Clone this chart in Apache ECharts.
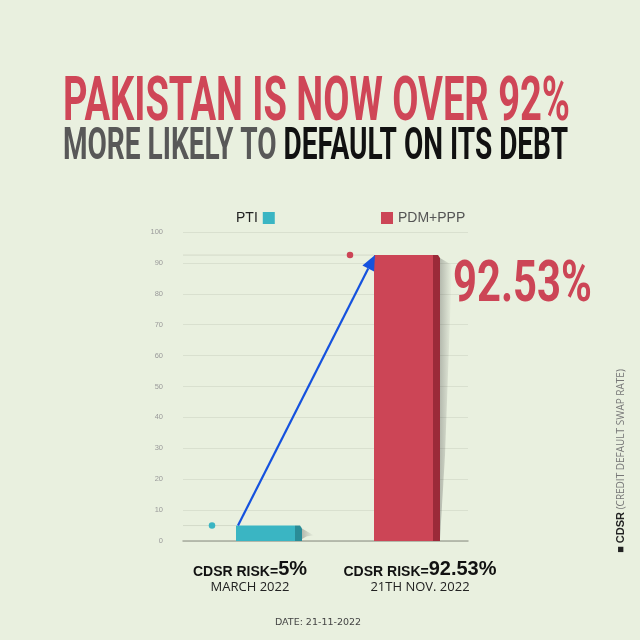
<!DOCTYPE html>
<html><head><meta charset="utf-8">
<script src="https://cdn.jsdelivr.net/npm/echarts@6/dist/echarts.min.js"></script>
<style>html,body{margin:0;padding:0;background:#e9f0df;}#c{width:640px;height:640px;}</style>
</head><body><div id="c"></div>
<script>
// ---- data ----
const categories = ['PTI', 'PDM+PPP'];
const cdsrValues = [5, 92.53];
const periodLabels = ['MARCH 2022', '21TH NOV. 2022'];
const yMin = 0, yMax = 100, yInterval = 10;
const titleLine1 = 'PAKISTAN IS NOW OVER 92%';
const titleLine2a = 'MORE LIKELY TO ';
const titleLine2b = 'DEFAULT ON ITS DEBT';
const sideNoteBold = '■ CDSR';
const sideNote = ' (CREDIT DEFAULT SWAP RATE)';
const dateText = 'DATE: 21-11-2022';

// ---- styles ----
const barColors = ['#3ab5c3', '#cc4556'];
const sideColors = ['#2a8c97', '#9b2a39'];
const BG = '#e9f0df';
const BAR_W = 66, SIDE = 7;

function measure(text, font) {
  const ctx = document.createElement('canvas').getContext('2d');
  ctx.font = font;
  return ctx.measureText(text).width;
}
const f1 = 'bold 62px Roboto';
const s1 = 507 / measure(titleLine1, f1);
const f2 = 'bold 45px Roboto';
const w2a = measure(titleLine2a, f2), w2b = measure(titleLine2b, f2);
const s2 = 505 / (w2a + w2b);

const chart = echarts.init(document.getElementById('c'), null, {renderer: 'canvas'});

const gridTop = 232, gridBottom = 99;

const option = {
  backgroundColor: BG,
  animation: false,
  legend: [
    {data: [categories[0]], align: 'right', left: 231, top: 206, icon: 'rect', itemWidth: 12, itemHeight: 12, itemGap: 6,
      textStyle: {fontSize: 14, color: '#222', fontFamily: 'Liberation Sans'}},
    {data: [categories[1]], align: 'left', left: 376, top: 206, icon: 'rect', itemWidth: 12, itemHeight: 12, itemGap: 6,
      textStyle: {fontSize: 14, color: '#555', fontFamily: 'Liberation Sans'}}
  ],
  grid: [
    {left: 200, right: 164, top: gridTop, bottom: gridBottom},   // bars
    {left: 183, right: 172, top: gridTop, bottom: gridBottom},   // gridlines + y labels
    {left: 165, right: 135, top: gridTop, bottom: gridBottom}    // bottom labels
  ],
  xAxis: [
    {gridIndex: 0, type: 'category', data: categories, show: false},
    {gridIndex: 1, type: 'category', data: categories, axisLine: {show: true, lineStyle: {color: '#a6ab9f', width: 1.5}},
      axisTick: {show: false}, axisLabel: {show: false}},
    {gridIndex: 2, type: 'category', data: categories, axisLine: {show: false}, axisTick: {show: false},
      axisLabel: {
        interval: 0, hideOverlap: false, margin: 21, lineHeight: 17,
        formatter: (v, i) => `{a|CDSR RISK=}{b|${cdsrValues[i]}%}\n{c|${periodLabels[i]}}`,
        rich: {
          a: {fontFamily: 'Liberation Sans', fontWeight: 900, fontSize: 14, color: '#111', verticalAlign: 'bottom'},
          b: {fontFamily: 'Liberation Sans', fontWeight: 900, fontSize: 20, color: '#111', verticalAlign: 'bottom'},
          c: {fontFamily: 'Open Sans', fontSize: 13, color: '#222', lineHeight: 17}
        }
      }}
  ],
  yAxis: [
    {gridIndex: 0, type: 'value', min: yMin, max: yMax, interval: yInterval, show: false},
    {gridIndex: 1, type: 'value', min: yMin, max: yMax, interval: yInterval,
      axisLine: {show: false}, axisTick: {show: false},
      axisLabel: {fontSize: 7.5, color: '#9a9a9a', margin: 20, fontFamily: 'Liberation Sans'},
      splitLine: {lineStyle: {color: '#d9e0cf', width: 1}}},
    {gridIndex: 2, type: 'value', min: yMin, max: yMax, show: false}
  ],
  series: [
    {
      type: 'custom', xAxisIndex: 0, yAxisIndex: 0, z: 3,
      data: cdsrValues.map((v, i) => [i, v]),
      renderItem(params, api) {
        const i = params.dataIndex;
        const v = api.value(1);
        const top = api.coord([i, v]);
        const base = api.coord([i, 0]);
        const x0 = top[0] - BAR_W / 2;
        const x1 = x0 + BAR_W - SIDE;
        const h = base[1] - top[1];
        const cs = params.coordSys;
        const children = [
          {type: 'line', shape: {x1: cs.x - 17, y1: top[1], x2: x0, y2: top[1]}, style: {stroke: '#d3dac9', lineWidth: 1}},
          {type: 'polygon', shape: {points: [[x1 + SIDE, top[1] + 3], [x1 + SIDE + 12, top[1] + 10], [x1 + SIDE + 5, top[1] + h * 0.7], [x1 + SIDE, base[1] - 2]]},
            style: {fill: new echarts.graphic.LinearGradient(0, 0, 1, 0, [{offset: 0, color: 'rgba(60,60,60,0.30)'}, {offset: 1, color: 'rgba(60,60,60,0)'}])}},
          {type: 'rect', shape: {x: x0, y: top[1], width: x1 - x0, height: h}, style: {fill: barColors[i]}},
          {type: 'polygon', shape: {points: [[x1, top[1]], [x1 + SIDE - 2, top[1]], [x1 + SIDE, top[1] + 3], [x1 + SIDE, base[1]], [x1, base[1]]]},
            style: {fill: sideColors[i]}}
        ];
        if (i === cdsrValues.length - 1) {
          children.push({type: 'text', x: x1 + SIDE + 13, y: top[1] + 31, scaleX: 0.72,
            style: {text: v.toFixed(2) + '%', font: 'bold 58px Roboto', fill: barColors[i], verticalAlign: 'middle', align: 'left'}});
        }
        return {type: 'group', children};
      }
    },
    {
      type: 'custom', xAxisIndex: 0, yAxisIndex: 0, z: 4,
      data: [[0, cdsrValues[0], 1, cdsrValues[1]]],
      renderItem(params, api) {
        const p0 = api.coord([api.value(0), api.value(1)]);
        const p1 = api.coord([api.value(2), api.value(3)]);
        const a = [p0[0] - BAR_W / 2 + 2, p0[1]];
        const b = [p1[0] - BAR_W / 2 + 1, p1[1]];
        const dx = b[0] - a[0], dy = b[1] - a[1];
        const L = Math.hypot(dx, dy), ux = dx / L, uy = dy / L;
        const hl = 15, hw = 6.5;
        const bx = b[0] - ux * hl, by = b[1] - uy * hl;
        return {type: 'group', children: [
          {type: 'line', shape: {x1: a[0], y1: a[1], x2: bx, y2: by}, style: {stroke: '#1552de', lineWidth: 2.2}},
          {type: 'polygon', shape: {points: [b, [bx - uy * hw, by + ux * hw], [bx + uy * hw, by - ux * hw]]}, style: {fill: '#1552de'}}
        ]};
      }
    },
    ...categories.map((c, i) => ({
      name: c, type: 'scatter', xAxisIndex: 0, yAxisIndex: 0, z: 5,
      data: [[i, cdsrValues[i]]], symbolSize: 6.5, symbolOffset: [-57, 0],
      itemStyle: {color: barColors[i], opacity: 1}
    }))
  ],
  graphic: [
    {type: 'text', x: 63, y: 104, scaleX: s1,
      style: {text: titleLine1, font: f1, fill: '#cf4657', verticalAlign: 'middle'}},
    {type: 'text', x: 63, y: 148, scaleX: s2,
      style: {text: titleLine2a, font: f2, fill: '#585858', verticalAlign: 'middle'}},
    {type: 'text', x: 63 + w2a * s2, y: 148, scaleX: s2,
      style: {text: titleLine2b, font: f2, fill: '#111', verticalAlign: 'middle'}},
    {type: 'text', x: 621, y: 461, rotation: Math.PI / 2,
      style: {text: '{b|' + sideNoteBold + '}{n|' + sideNote + '}', align: 'center', verticalAlign: 'middle',
        rich: {b: {fontFamily: 'Liberation Sans', fontWeight: 'bold', fontSize: 11, fill: '#222'},
               n: {fontFamily: 'Open Sans', fontSize: 10, fill: '#777'}}}},
    {type: 'text', x: 318, y: 623,
      style: {text: dateText, font: '9.5px "DejaVu Sans"', fill: '#444', align: 'center', verticalAlign: 'middle'}}
  ]
};
chart.setOption(option);
</script>
</body></html>
